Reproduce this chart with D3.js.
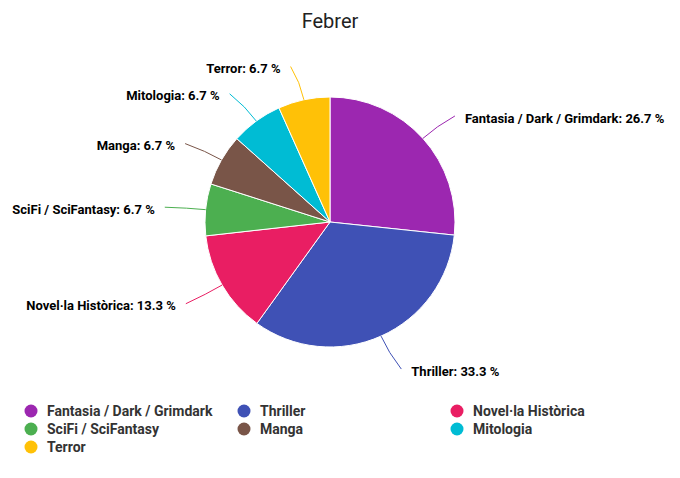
<!DOCTYPE html>
<html>
<head>
<meta charset="utf-8">
<script src="https://cdn.jsdelivr.net/npm/d3@7"></script>
<style>
  body { margin: 0; background: #fff; }
  svg { font-family: Roboto, sans-serif; }
</style>
</head>
<body>
<svg id="chart" width="680" height="478"></svg>
<script>
const title = 'Febrer'
const categories = ['Fantasia / Dark / Grimdark', 'Thriller', 'Novel·la Històrica', 'SciFi / SciFantasy', 'Manga', 'Mitologia', 'Terror']
const values = [26.7, 33.3, 13.3, 6.7, 6.7, 6.7, 6.7]
const colors = ['#9C27B0', '#3F51B5', '#E91E63', '#4CAF50', '#795548', '#00BCD4', '#FFC107']

const svg = d3.select('#chart')
const cx = 330
const cy = 222
const r = 125

svg.append('text')
  .attr('x', cx)
  .attr('y', 28)
  .attr('text-anchor', 'middle')
  .attr('font-size', 20)
  .attr('fill', '#222')
  .text(title)

const data = categories.map((name, i) => ({ name, value: values[i], color: colors[i] }))
const pie = d3.pie().value(d => d.value).sort(null)
const arcs = pie(data)
const arc = d3.arc().innerRadius(0).outerRadius(r)

const g = svg.append('g').attr('transform', `translate(${cx},${cy})`)

g.selectAll('path.slice')
  .data(arcs)
  .join('path')
  .attr('class', 'slice')
  .attr('d', arc)
  .attr('fill', d => d.data.color)
  .attr('stroke', '#fff')
  .attr('stroke-width', 1)

// labels and curved connectors
arcs.forEach(d => {
  const a = (d.startAngle + d.endAngle) / 2
  const sx = Math.sin(a)
  const sy = -Math.cos(a)
  const right = sx >= 0
  const dir = right ? 1 : -1
  const p0 = [r * sx, r * sy]
  const c = [(r + 18) * sx, (r + 18) * sy]
  const end = [(r + 35) * sx + dir * 6, (r + 35) * sy + 1]

  g.append('path')
    .attr('d', `M${p0[0]},${p0[1]}Q${c[0]},${c[1]} ${end[0]},${end[1]}`)
    .attr('fill', 'none')
    .attr('stroke', d.data.color)
    .attr('stroke-width', 1)

  g.append('text')
    .attr('x', end[0] + dir * 10)
    .attr('y', end[1] + 2)
    .attr('dy', '0.35em')
    .attr('text-anchor', right ? 'start' : 'end')
    .attr('font-size', 13)
    .attr('font-weight', 'bold')
    .attr('fill', '#000')
    .text(`${d.data.name}: ${d.data.value} %`)
})

// legend
const colX = [31, 244, 457]
const rowY = [411, 429, 447]
const legend = svg.append('g')
data.forEach((d, i) => {
  const x = colX[i % 3]
  const y = rowY[Math.floor(i / 3)]
  legend.append('circle')
    .attr('cx', x)
    .attr('cy', y)
    .attr('r', 6.5)
    .attr('fill', d.color)
  legend.append('text')
    .attr('x', x + 16)
    .attr('y', y)
    .attr('dy', '0.35em')
    .attr('font-size', 14)
    .attr('font-weight', 'bold')
    .attr('fill', '#333')
    .text(d.name)
})
</script>
</body>
</html>
